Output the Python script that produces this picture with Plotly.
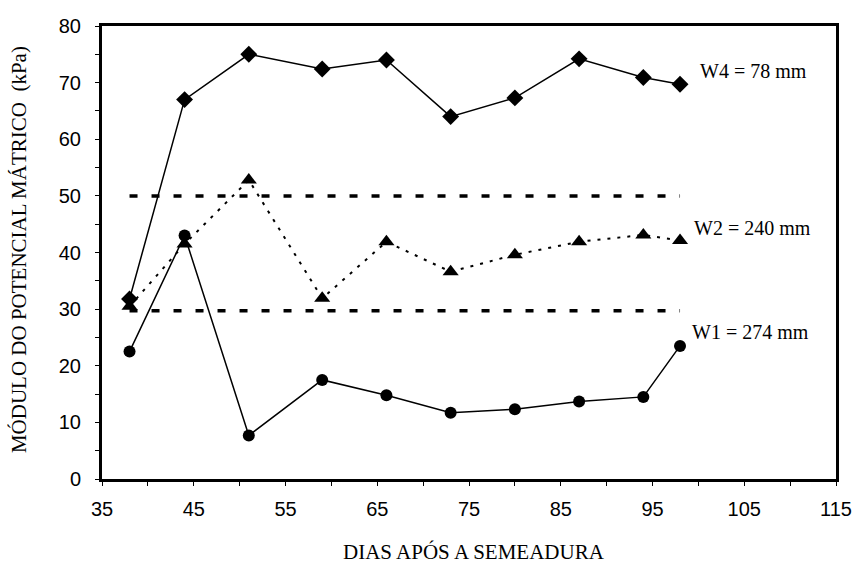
import plotly.graph_objects as go

dias = [38, 44, 51, 59, 66, 73, 80, 87, 94, 98]
w4 = [31.8, 67.0, 75.0, 72.4, 74.0, 64.0, 67.3, 74.2, 70.9, 69.7]
w2 = [30.5, 41.5, 52.8, 31.9, 41.9, 36.6, 39.6, 41.9, 43.1, 42.1]
w1 = [22.5, 43.0, 7.7, 17.5, 14.8, 11.7, 12.3, 13.7, 14.5, 23.5]
limite_x = [38, 98]
limite_sup = [50, 50]
limite_inf = [29.7, 29.7]
x_ticks = [35, 45, 55, 65, 75, 85, 95, 105, 115]
y_ticks = [0, 10, 20, 30, 40, 50, 60, 70, 80]
rotulos = ["W4 = 78 mm", "W2 = 240 mm", "W1 = 274 mm"]

fig = go.Figure()
for yv in (limite_sup, limite_inf):
    fig.add_trace(go.Scatter(x=limite_x, y=yv, mode="lines",
                             line=dict(color="black", width=3.5, dash="8px,14px"),
                             showlegend=False, hoverinfo="skip"))
fig.add_trace(go.Scatter(x=dias, y=w2, mode="lines+markers",
                         line=dict(color="black", width=2, dash="3px,7px"),
                         marker=dict(symbol="triangle-up", size=14, color="black"),
                         showlegend=False))
fig.add_trace(go.Scatter(x=dias, y=w1, mode="lines+markers",
                         line=dict(color="black", width=1.5),
                         marker=dict(symbol="circle", size=12, color="black"),
                         showlegend=False))
fig.add_trace(go.Scatter(x=dias, y=w4, mode="lines+markers",
                         line=dict(color="black", width=1.5),
                         marker=dict(symbol="diamond", size=13, color="black"),
                         showlegend=False))

serif = "Liberation Serif, Times New Roman, serif"
sans = "Liberation Sans, Arial, sans-serif"
for txt, xx, yy in [(rotulos[0], 100.0, 72.1), (rotulos[1], 99.3, 44.3), (rotulos[2], 99.1, 26.0)]:
    fig.add_annotation(x=xx, y=yy, text=txt, showarrow=False, xanchor="left",
                       font=dict(family=serif, size=20, color="black"))

fig.add_annotation(xref="paper", yref="paper", x=0.507, y=-0.161, text="DIAS APÓS A SEMEADURA",
                   showarrow=False, xanchor="center", yanchor="middle",
                   font=dict(family=serif, size=21, color="black"))
fig.add_annotation(xref="paper", yref="paper", x=-0.113, y=0.5055,
                   text="MÓDULO DO POTENCIAL MÁTRICO  (kPa)", textangle=-90,
                   showarrow=False, xanchor="center", yanchor="middle",
                   font=dict(family=serif, size=21, color="black"))

fig.update_xaxes(range=[35, 115], tickvals=list(range(35, 116, 5)),
                 ticktext=[str(v) if v in x_ticks else "" for v in range(35, 116, 5)],
                 ticks="outside", ticklen=4, tickwidth=1, tickcolor="black",
                 ticklabelstandoff=6, automargin=False,
                 showline=True, linewidth=3, linecolor="black", mirror=True,
                 showgrid=False, zeroline=False,
                 tickfont=dict(family=sans, size=20, color="black"))
fig.update_yaxes(range=[0, 80], tickvals=list(range(0, 81, 5)),
                 ticktext=[str(v) if v in y_ticks else "" for v in range(0, 81, 5)],
                 ticks="outside", ticklen=4, tickwidth=1, tickcolor="black",
                 ticklabelstandoff=10, automargin=False,
                 showline=True, linewidth=3, linecolor="black", mirror=True,
                 showgrid=False, zeroline=False,
                 tickfont=dict(family=sans, size=20, color="black"))
fig.update_layout(width=857, height=563, margin=dict(l=102, r=21, t=26, b=84, autoexpand=False),
                  plot_bgcolor="white", paper_bgcolor="white")
fig.write_html("out.html", config={"displayModeBar": False},
               post_script="document.body.style.margin='0';document.body.style.overflow='hidden';")
